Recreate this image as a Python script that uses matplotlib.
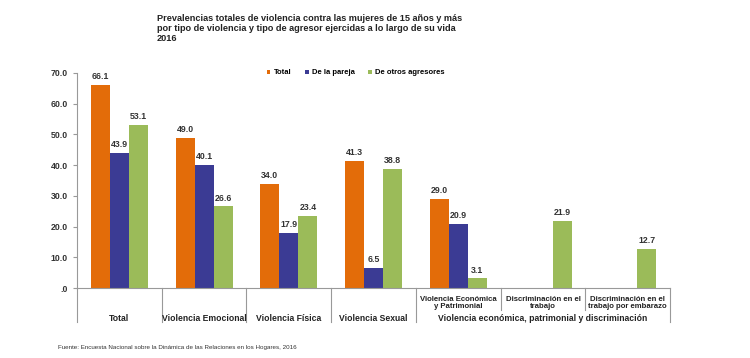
import numpy as np
import matplotlib.pyplot as plt
from matplotlib.transforms import blended_transform_factory

plt.rcParams['font.family'] = ['Liberation Sans', 'DejaVu Sans']

# Data
categorias = ['Total', 'Violencia Emocional', 'Violencia Física', 'Violencia Sexual',
              'Violencia Económica\ny Patrimonial', 'Discriminación en el\ntrabajo',
              'Discriminación en el\ntrabajo por embarazo']
total = [66.1, 49.0, 34.0, 41.3, 29.0, np.nan, np.nan]
pareja = [43.9, 40.1, 17.9, 6.5, 20.9, np.nan, np.nan]
otros = [53.1, 26.6, 23.4, 38.8, 3.1, 21.9, 12.7]
series = ['Total', 'De la pareja', 'De otros agresores']
colores = ['#E36C09', '#3B3B94', '#9BBB59']
grupo = 'Violencia económica, patrimonial y discriminación'

fig = plt.figure(figsize=(7.5, 3.58), dpi=100)
ax = fig.add_axes([0.1027, 0.1955, 0.7907, 0.6006])

x = np.arange(len(categorias))
w = 0.225
for k, (vals, lab, col) in enumerate(zip([total, pareja, otros], series, colores)):
    xs = x + (k - 1) * w
    ax.bar(xs, vals, width=w, color=col, label=lab)
    for xi, v in zip(xs, vals):
        if not np.isnan(v):
            ax.text(xi, v + 1.2, f'{v:.1f}', ha='center', va='bottom',
                    fontsize=6.3, fontweight='bold', color='#333333')

ax.set_xlim(-0.5, len(categorias) - 0.5)
ax.set_ylim(0, 70)
ax.set_yticks(np.arange(0, 71, 10))
ax.set_yticklabels(['.0'] + [f'{v:.1f}' for v in np.arange(10, 71, 10)],
                   fontsize=6.3, fontweight='bold', color='#333333')
ax.set_xticks([])
for s in ['top', 'right']:
    ax.spines[s].set_visible(False)
ax.spines['left'].set_color('#999999')
ax.spines['bottom'].set_color('#999999')
ax.tick_params(axis='y', length=3, color='#999999')

# category labels and separators below the axis
tr = blended_transform_factory(ax.transData, ax.transAxes)
for i, c in enumerate(categorias):
    if i < 4:
        ax.text(i, -0.14, c, transform=tr, ha='center', va='center',
                fontsize=6.2, fontweight='bold', color='#222222')
    else:
        ax.text(i, -0.07, c, transform=tr, ha='center', va='center',
                fontsize=5.6, fontweight='bold', color='#222222', linespacing=1.0)
ax.text(5, -0.14, grupo, transform=tr, ha='center', va='center',
        fontsize=6.2, fontweight='bold', color='#222222')
for b in np.arange(-0.5, len(categorias), 1.0):
    y0 = -0.10 if b in (4.5, 5.5) else -0.158
    ax.plot([b, b], [0, y0], transform=tr, color='#999999', lw=0.8, clip_on=False)

ax.legend(loc='center', bbox_to_anchor=(0.47, 1.0), ncol=3, frameon=False,
          handlelength=0.5, handleheight=0.5, handletextpad=0.4,
          columnspacing=1.8, prop={'weight': 'bold', 'size': 5.5})

fig.text(0.209, 0.96, 'Prevalencias totales de violencia contra las mujeres de 15 años y más\n'
         'por tipo de violencia y tipo de agresor ejercidas a lo largo de su vida\n2016',
         ha='left', va='top', fontsize=6.6, fontweight='bold', color='#222222', linespacing=1.1)
fig.text(0.077, 0.03, 'Fuente: Encuesta Nacional sobre la Dinámica de las Relaciones en los Hogares, 2016',
         ha='left', va='center', fontsize=4.5, color='#333333')

fig.savefig('out.png', dpi=100)
